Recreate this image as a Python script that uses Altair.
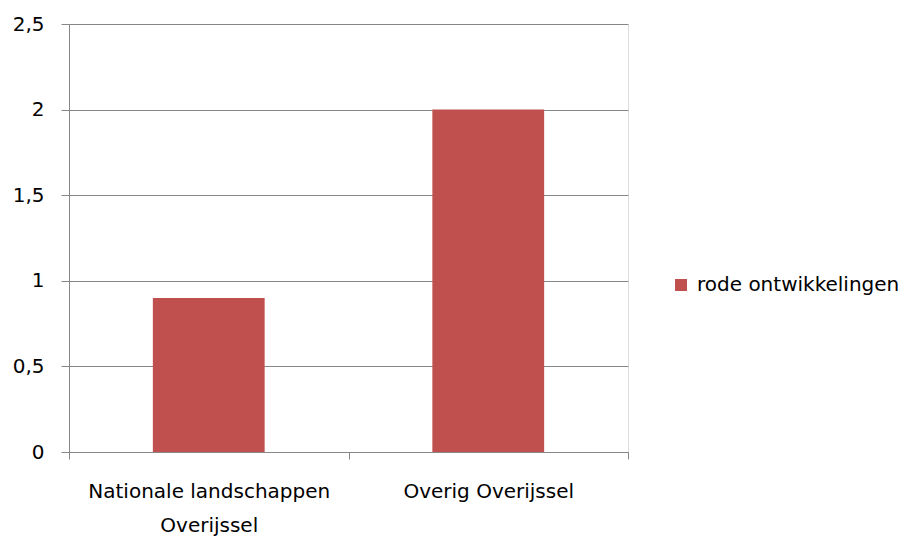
import altair as alt
import pandas as pd

categories = ["Nationale landschappen Overijssel", "Overig Overijssel"]
values = [0.9, 2.0]
series = ["rode ontwikkelingen", "rode ontwikkelingen"]

df = pd.DataFrame({"cat": categories, "val": values, "series": series})

FONT = "DejaVu Sans"
FS = 20
GRAY = "#868686"

chart = alt.Chart(df).mark_bar(color="#C0504D", width=alt.RelativeBandSize(0.4)).encode(
    x=alt.X("cat:N", sort=categories, title=None,
            scale=alt.Scale(paddingInner=0, paddingOuter=0),
            axis=alt.Axis(labelAngle=0, tickBand="extent", tickSize=7, tickColor=GRAY,
                          domainColor=GRAY, labelFontSize=FS, labelFont=FONT, labelColor="#000",
                          labelPadding=22, labelLineHeight=34, labelLimit=0,
                          labelExpr="datum.value == 'Nationale landschappen Overijssel' ? ['Nationale landschappen', 'Overijssel'] : datum.value")),
    y=alt.Y("val:Q", title=None,
            scale=alt.Scale(domain=[0, 2.5]),
            axis=alt.Axis(values=[0, 0.5, 1, 1.5, 2, 2.5], tickSize=8, tickColor=GRAY,
                          domainColor=GRAY, gridColor=GRAY, labelFontSize=FS, labelFont=FONT,
                          labelColor="#000", labelPadding=17,
                          labelExpr="replace(format(datum.value, ''), '.', ',')")),
    color=alt.Color("series:N", scale=alt.Scale(range=["#C0504D"]),
                    legend=alt.Legend(title=None, orient="none", legendX=602, legendY=251,
                                      symbolType="square", symbolSize=144, symbolStrokeWidth=0,
                                      labelFontSize=FS, labelFont=FONT, labelColor="#000",
                                      labelOffset=6, labelLimit=0)),
).properties(
    width=559, height=428,
    autosize=alt.AutoSizeParams(type="none"),
    padding={"left": 61, "top": 16, "right": 278, "bottom": 85},
).configure_view(stroke=None).configure(background="white")

chart.save("out.html", embed_options={"renderer": "svg", "actions": False})
